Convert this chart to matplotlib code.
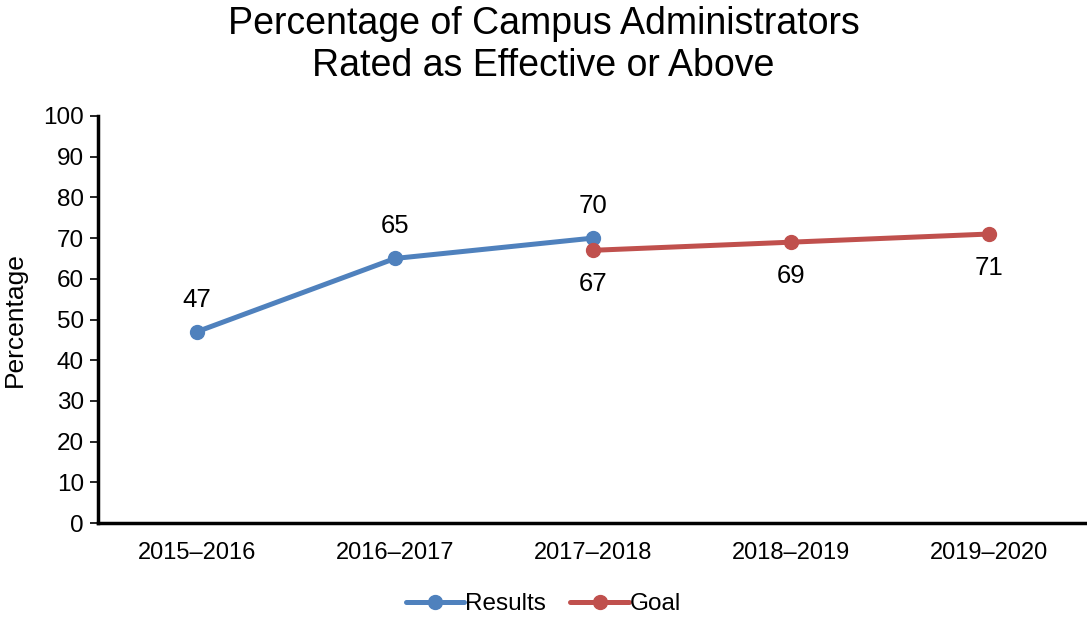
import matplotlib
matplotlib.use("Agg")
import matplotlib.pyplot as plt

plt.rcParams['font.family'] = ['Liberation Sans', 'DejaVu Sans']

categories = ["2015–2016", "2016–2017", "2017–2018", "2018–2019", "2019–2020"]
results_x = [0, 1, 2]
results = [47, 65, 70]
goal_x = [2, 3, 4]
goal = [67, 69, 71]

blue = "#4F81BD"
red = "#C0504D"

fig = plt.figure(figsize=(10.87, 6.18), dpi=100)
ax = fig.add_axes([98/1087, 1 - 523/618, 990/1087, (523-116)/618])

ax.plot(results_x, results, color=blue, lw=3.6, marker='o', ms=10, label="Results", solid_capstyle='round')
ax.plot(goal_x, goal, color=red, lw=3.6, marker='o', ms=10, label="Goal", solid_capstyle='round')

for x, v in zip(results_x, results):
    ax.text(x, v + 7.9, str(v), ha='center', va='center', fontsize=18.5)
for x, v in zip(goal_x, goal):
    ax.text(x, v - 8.3, str(v), ha='center', va='center', fontsize=18.5)

ax.set_xlim(-0.5, 4.5)
ax.set_ylim(0, 100)
ax.set_yticks(range(0, 101, 10))
ax.set_xticks(range(len(categories)))
ax.set_xticklabels(categories)
ax.tick_params(axis='x', length=0, labelsize=17, pad=14)
ax.tick_params(axis='y', length=6, width=1.2, labelsize=17.5, pad=4)
for s in ['top', 'right']:
    ax.spines[s].set_visible(False)
for s in ['left', 'bottom']:
    ax.spines[s].set_linewidth(2.5)
    ax.spines[s].set_color('black')
ax.set_ylabel("Percentage", fontsize=19, labelpad=12)

fig.suptitle("Percentage of Campus Administrators\nRated as Effective or Above", fontsize=27, y=0.99, linespacing=1.22)

fig.legend(loc='center', bbox_to_anchor=(0.5, 1 - 604/618), ncol=2, frameon=False,
           fontsize=17.5, handlelength=2.4, handletextpad=0.05, columnspacing=1.0)

fig.savefig("out.png", dpi=100)
